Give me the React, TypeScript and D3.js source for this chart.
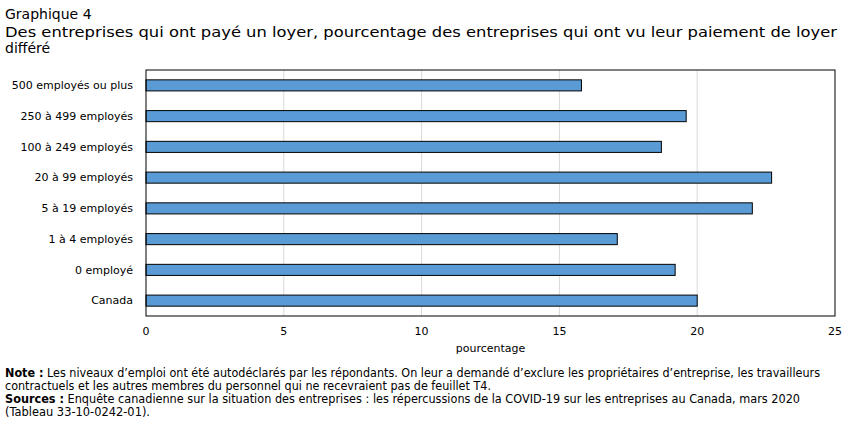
import { useRef, useEffect } from "react";
import * as d3 from "d3";

const categories = [
  "500 employés ou plus",
  "250 à 499 employés",
  "100 à 249 employés",
  "20 à 99 employés",
  "5 à 19 employés",
  "1 à 4 employés",
  "0 employé",
  "Canada",
];
const values = [15.8, 19.6, 18.7, 22.7, 22.0, 17.1, 19.2, 20.0];
const xTicks = [0, 5, 10, 15, 20, 25];

const W = 851;
const H = 424;
const M = { left: 146, right: 835, top: 70, bottom: 316 };
const BAR_FILL = "#5b9bd5";
const FONT = "DejaVu Sans, Verdana, sans-serif";

export default function App() {
  const svgRef = useRef<SVGSVGElement>(null);

  useEffect(() => {
    if (!svgRef.current) return;
    const svg = d3.select(svgRef.current);
    svg.selectAll("*").remove();

    const x = d3.scaleLinear().domain([0, 25]).range([M.left, M.right]);
    const y = d3.scaleBand<string>().domain(categories).range([M.top, M.bottom]).paddingInner(0.64).paddingOuter(0.32);

    // Titles
    svg.append("text").attr("x", 5).attr("y", 19).attr("font-family", FONT).attr("font-size", 14).attr("fill", "#000")
      .text("Graphique 4");
    svg.append("text").attr("x", 5).attr("y", 37).attr("font-family", FONT).attr("font-size", 14).attr("fill", "#000")
      .attr("textLength", 832).attr("lengthAdjust", "spacingAndGlyphs")
      .text("Des entreprises qui ont payé un loyer, pourcentage des entreprises qui ont vu leur paiement de loyer");
    svg.append("text").attr("x", 5).attr("y", 53).attr("font-family", FONT).attr("font-size", 14).attr("fill", "#000")
      .text("différé");

    // Gridlines
    svg.append("g").selectAll("line").data(xTicks.slice(1, -1)).enter().append("line")
      .attr("x1", (d) => x(d)).attr("x2", (d) => x(d))
      .attr("y1", M.top).attr("y2", M.bottom)
      .attr("stroke", "#d9d9d9").attr("stroke-width", 1);

    // Bars
    svg.append("g").selectAll("rect").data(values).enter().append("rect")
      .attr("x", x(0))
      .attr("y", (_, i) => y(categories[i])!)
      .attr("width", (d) => x(d) - x(0))
      .attr("height", y.bandwidth())
      .attr("fill", BAR_FILL)
      .attr("stroke", "#000")
      .attr("stroke-width", 1);

    // Plot frame
    svg.append("rect").attr("x", M.left).attr("y", M.top)
      .attr("width", M.right - M.left).attr("height", M.bottom - M.top)
      .attr("fill", "none").attr("stroke", "#000").attr("stroke-width", 1);

    // Category labels
    svg.append("g").selectAll("text").data(categories).enter().append("text")
      .attr("x", 133)
      .attr("y", (d) => y(d)! + y.bandwidth() / 2)
      .attr("dy", "0.35em")
      .attr("text-anchor", "end")
      .attr("font-family", FONT).attr("font-size", 11).attr("fill", "#000")
      .text((d) => d);

    // X tick labels
    svg.append("g").selectAll("text").data(xTicks).enter().append("text")
      .attr("x", (d) => x(d))
      .attr("y", 335)
      .attr("text-anchor", "middle")
      .attr("font-family", FONT).attr("font-size", 11).attr("fill", "#000")
      .text((d) => String(d));

    svg.append("text").attr("x", (M.left + M.right) / 2).attr("y", 352).attr("text-anchor", "middle")
      .attr("font-family", FONT).attr("font-size", 11).attr("fill", "#000")
      .text("pourcentage");

    // Notes
    const notes = svg.append("g").attr("font-family", FONT).attr("font-size", 11.5).attr("fill", "#000");
    const l1 = notes.append("text").attr("x", 5).attr("y", 377).attr("textLength", 815).attr("lengthAdjust", "spacingAndGlyphs");
    l1.append("tspan").attr("font-weight", "bold").text("Note :");
    l1.append("tspan").text(" Les niveaux d’emploi ont été autodéclarés par les répondants. On leur a demandé d’exclure les propriétaires d’entreprise, les travailleurs");
    notes.append("text").attr("x", 5).attr("y", 390).attr("textLength", 486).attr("lengthAdjust", "spacingAndGlyphs")
      .text("contractuels et les autres membres du personnel qui ne recevraient pas de feuillet T4.");
    const l3 = notes.append("text").attr("x", 5).attr("y", 403).attr("textLength", 795).attr("lengthAdjust", "spacingAndGlyphs");
    l3.append("tspan").attr("font-weight", "bold").text("Sources :");
    l3.append("tspan").text(" Enquête canadienne sur la situation des entreprises : les répercussions de la COVID-19 sur les entreprises au Canada, mars 2020");
    notes.append("text").attr("x", 5).attr("y", 416).attr("textLength", 145).attr("lengthAdjust", "spacingAndGlyphs")
      .text("(Tableau 33-10-0242-01).");
  }, []);

  return (
    <svg ref={svgRef} width={W} height={H} style={{ position: "absolute", left: 0, top: 0, background: "#fff" }} />
  );
}
